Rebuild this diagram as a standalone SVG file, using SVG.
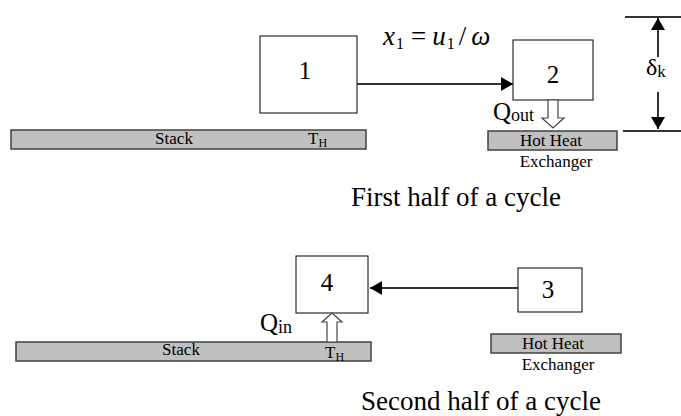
<svg xmlns="http://www.w3.org/2000/svg" width="681" height="416" viewBox="0 0 681 416">
<style>
text{font-family:"Liberation Serif",Tinos,"Times New Roman","DejaVu Serif",serif;fill:#000}
.box{fill:#fff;stroke:#000;stroke-width:1}
.bar{fill:#c0c0c0;stroke:#404040;stroke-width:1.5}
.line{stroke:#333;stroke-width:2;fill:none}
.hollow{fill:#fff;stroke:#444;stroke-width:1.2}
.num{font-size:25px;text-anchor:middle}
.sm{font-size:17px}
.mid{text-anchor:middle}
.cap{font-size:27px;text-anchor:middle}
.it{font-style:italic}
</style>
<defs>
<marker id="ah2" viewBox="0 0 12 14" refX="12" refY="7" markerWidth="12" markerHeight="14" markerUnits="userSpaceOnUse" orient="auto">
<path d="M0,0 L12,7 L0,14 Z" fill="#000"/>
</marker>
</defs>
<rect width="681" height="416" fill="#fff"/>

<g id="stack1">
<rect class="bar" x="11" y="130" width="355" height="19"/>
<text class="sm mid" x="174" y="144">Stack</text>
<text class="sm" x="308" y="144">T<tspan font-size="12" dy="3">H</tspan></text>
</g>
<g id="hhx1">
<rect class="bar" x="488" y="131" width="129" height="19"/>
<text class="sm mid" x="551" y="146">Hot Heat</text>
<text class="sm mid" x="556" y="167">Exchanger</text>
</g>
<g id="node1">
<rect class="box" x="260" y="36" width="97" height="77"/>
<text class="num" x="305" y="79">1</text>
</g>
<g id="node2">
<rect class="box" x="513" y="40" width="80" height="60"/>
<text class="num" x="553" y="83">2</text>
</g>
<g id="formula">
<text x="383" y="45" font-size="27"><tspan class="it">x</tspan><tspan font-size="16" dy="4" dx="1">1</tspan><tspan dy="-4" dx="7">=</tspan><tspan class="it" dx="6">u</tspan><tspan font-size="16" dy="4" dx="1">1</tspan><tspan dy="-4" dx="4">/</tspan><tspan class="it" dx="5">ω</tspan></text>
</g>
<g id="qout">
<text x="493" y="120" font-size="25">Q<tspan font-size="18" dy="1">out</tspan></text>
<path class="hollow" d="M548,100 L558,100 L558,118 L564,118 L553,128 L542,118 L548,118 Z"/>
</g>
<g id="delta">
<line class="line" x1="625" y1="17" x2="681" y2="17" stroke-width="1.5"/>
<line class="line" x1="623" y1="131" x2="681" y2="131" stroke-width="1.5"/>
<line class="line" x1="658" y1="57" x2="658" y2="18" marker-end="url(#ah2)"/>
<line class="line" x1="658" y1="92" x2="658" y2="129" marker-end="url(#ah2)"/>
<text x="646" y="75" font-size="24">δ<tspan font-size="17" dy="2">k</tspan></text>
</g>
<text class="cap" x="456" y="206">First half of a cycle</text>

<g id="stack2">
<rect class="bar" x="16" y="342" width="355" height="19"/>
<text class="sm mid" x="181" y="355">Stack</text>
<text class="sm" x="325" y="358">T<tspan font-size="12" dy="3">H</tspan></text>
</g>
<g id="hhx2">
<rect class="bar" x="491" y="334" width="130" height="19"/>
<text class="sm mid" x="553" y="349">Hot Heat</text>
<text class="sm mid" x="558" y="370">Exchanger</text>
</g>
<g id="node4">
<rect class="box" x="296" y="256" width="72" height="57"/>
<text class="num" x="327" y="291">4</text>
</g>
<g id="node3">
<rect class="box" x="518" y="268" width="64" height="44"/>
<text class="num" x="548" y="298">3</text>
</g>
<g id="qin">
<text x="260" y="331" font-size="25">Q<tspan font-size="18" dy="2">in</tspan></text>
<path class="hollow" d="M327,342 L337,342 L337,322 L342,322 L332,313 L322,322 L327,322 Z"/>
</g>
<text class="cap" x="481" y="410">Second half of a cycle</text>

<g id="connectors">
<line class="line" x1="357" y1="84" x2="513" y2="84" marker-end="url(#ah2)"/>
<line class="line" x1="518" y1="288" x2="370" y2="288" marker-end="url(#ah2)"/>
</g>
</svg>
